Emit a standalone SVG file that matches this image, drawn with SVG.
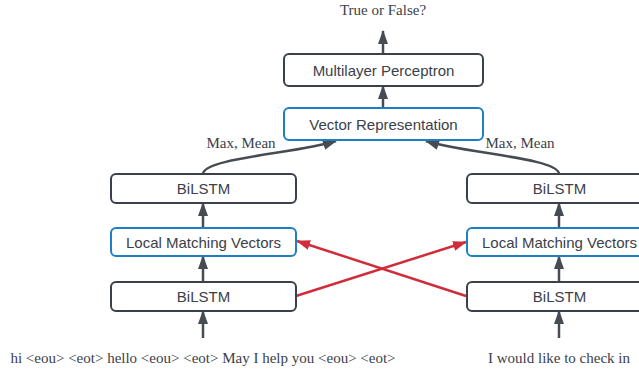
<svg xmlns="http://www.w3.org/2000/svg" width="639" height="372" viewBox="0 0 639 372">
<defs>
<marker id="ah" viewBox="0 0 14 10" refX="13" refY="5" markerWidth="14" markerHeight="10" markerUnits="userSpaceOnUse" orient="auto"><path d="M0,0 L14,5 L0,10 Z" fill="#474c53"/></marker>
<marker id="ahr" viewBox="0 0 14 10" refX="13" refY="5" markerWidth="14" markerHeight="10" markerUnits="userSpaceOnUse" orient="auto"><path d="M0,0 L14,5 L0,10 Z" fill="#d02d3a"/></marker>
</defs>
<style>
.box{fill:#fff;stroke:#3a414a;stroke-width:2}
.blue{fill:#fff;stroke:#1d80c3;stroke-width:2}
.lbl{font-family:"Liberation Sans",Arial,sans-serif;font-size:15px;fill:#3a414a;text-anchor:middle}
.ser{font-family:"Liberation Serif","Times New Roman",serif;font-size:15px;fill:#3a414a;text-anchor:middle}
.ed{fill:none;stroke:#474c53;stroke-width:2.5;marker-end:url(#ah)}
.red{fill:none;stroke:#d02d3a;stroke-width:2.5;marker-end:url(#ahr)}
</style>
<rect width="639" height="372" fill="#fff"/>
<g id="connectors">
<path class="ed" d="M383,53 V31"/>
<path class="ed" d="M383,108 V86"/>
<path class="ed" d="M203,174 C203,158 300,153 336,141"/>
<path class="ed" d="M559,174 C559,158 462,153 426,141"/>
<path class="ed" d="M203,228 V203"/>
<path class="ed" d="M203,282 V256"/>
<path class="ed" d="M203,338 V311"/>
<path class="ed" d="M559,228 V203"/>
<path class="ed" d="M559,282 V256"/>
<path class="ed" d="M559,338 V311"/>
<path class="red" d="M296,296 L466,242"/>
<path class="red" d="M466,296 L297,241"/>
</g>
<g id="out"><text class="ser" x="383" y="15">True or False?</text></g>
<g id="mlp"><rect class="box" x="284" y="54" width="199" height="32" rx="5"/><text class="lbl" x="383.5" y="75.5">Multilayer Perceptron</text></g>
<g id="vecrep"><rect class="blue" x="284" y="108" width="199" height="32" rx="5"/><text class="lbl" x="383.5" y="129.5">Vector Representation</text></g>
<g id="lblL"><text class="ser" x="241" y="148">Max, Mean</text></g>
<g id="lblR"><text class="ser" x="520" y="148">Max, Mean</text></g>
<g id="bilstmL2"><rect class="box" x="111" y="174" width="185" height="29" rx="5"/><text class="lbl" x="203.5" y="194">BiLSTM</text></g>
<g id="lmvL"><rect class="blue" x="111" y="228" width="185" height="28" rx="5"/><text class="lbl" x="203.5" y="247.5">Local Matching Vectors</text></g>
<g id="bilstmL1"><rect class="box" x="111" y="282" width="185" height="29" rx="5"/><text class="lbl" x="203.5" y="302">BiLSTM</text></g>
<g id="bilstmR2"><rect class="box" x="467" y="174" width="185" height="29" rx="5"/><text class="lbl" x="559.5" y="194">BiLSTM</text></g>
<g id="lmvR"><rect class="blue" x="467" y="228" width="185" height="28" rx="5"/><text class="lbl" x="559.5" y="247.5">Local Matching Vectors</text></g>
<g id="bilstmR1"><rect class="box" x="467" y="282" width="185" height="29" rx="5"/><text class="lbl" x="559.5" y="302">BiLSTM</text></g>
<g id="inL"><text class="ser" x="203" y="363">hi &lt;eou&gt; &lt;eot&gt; hello &lt;eou&gt; &lt;eot&gt; May I help you &lt;eou&gt; &lt;eot&gt;</text></g>
<g id="inR"><text class="ser" x="559" y="363">I would like to check in</text></g>
</svg>
